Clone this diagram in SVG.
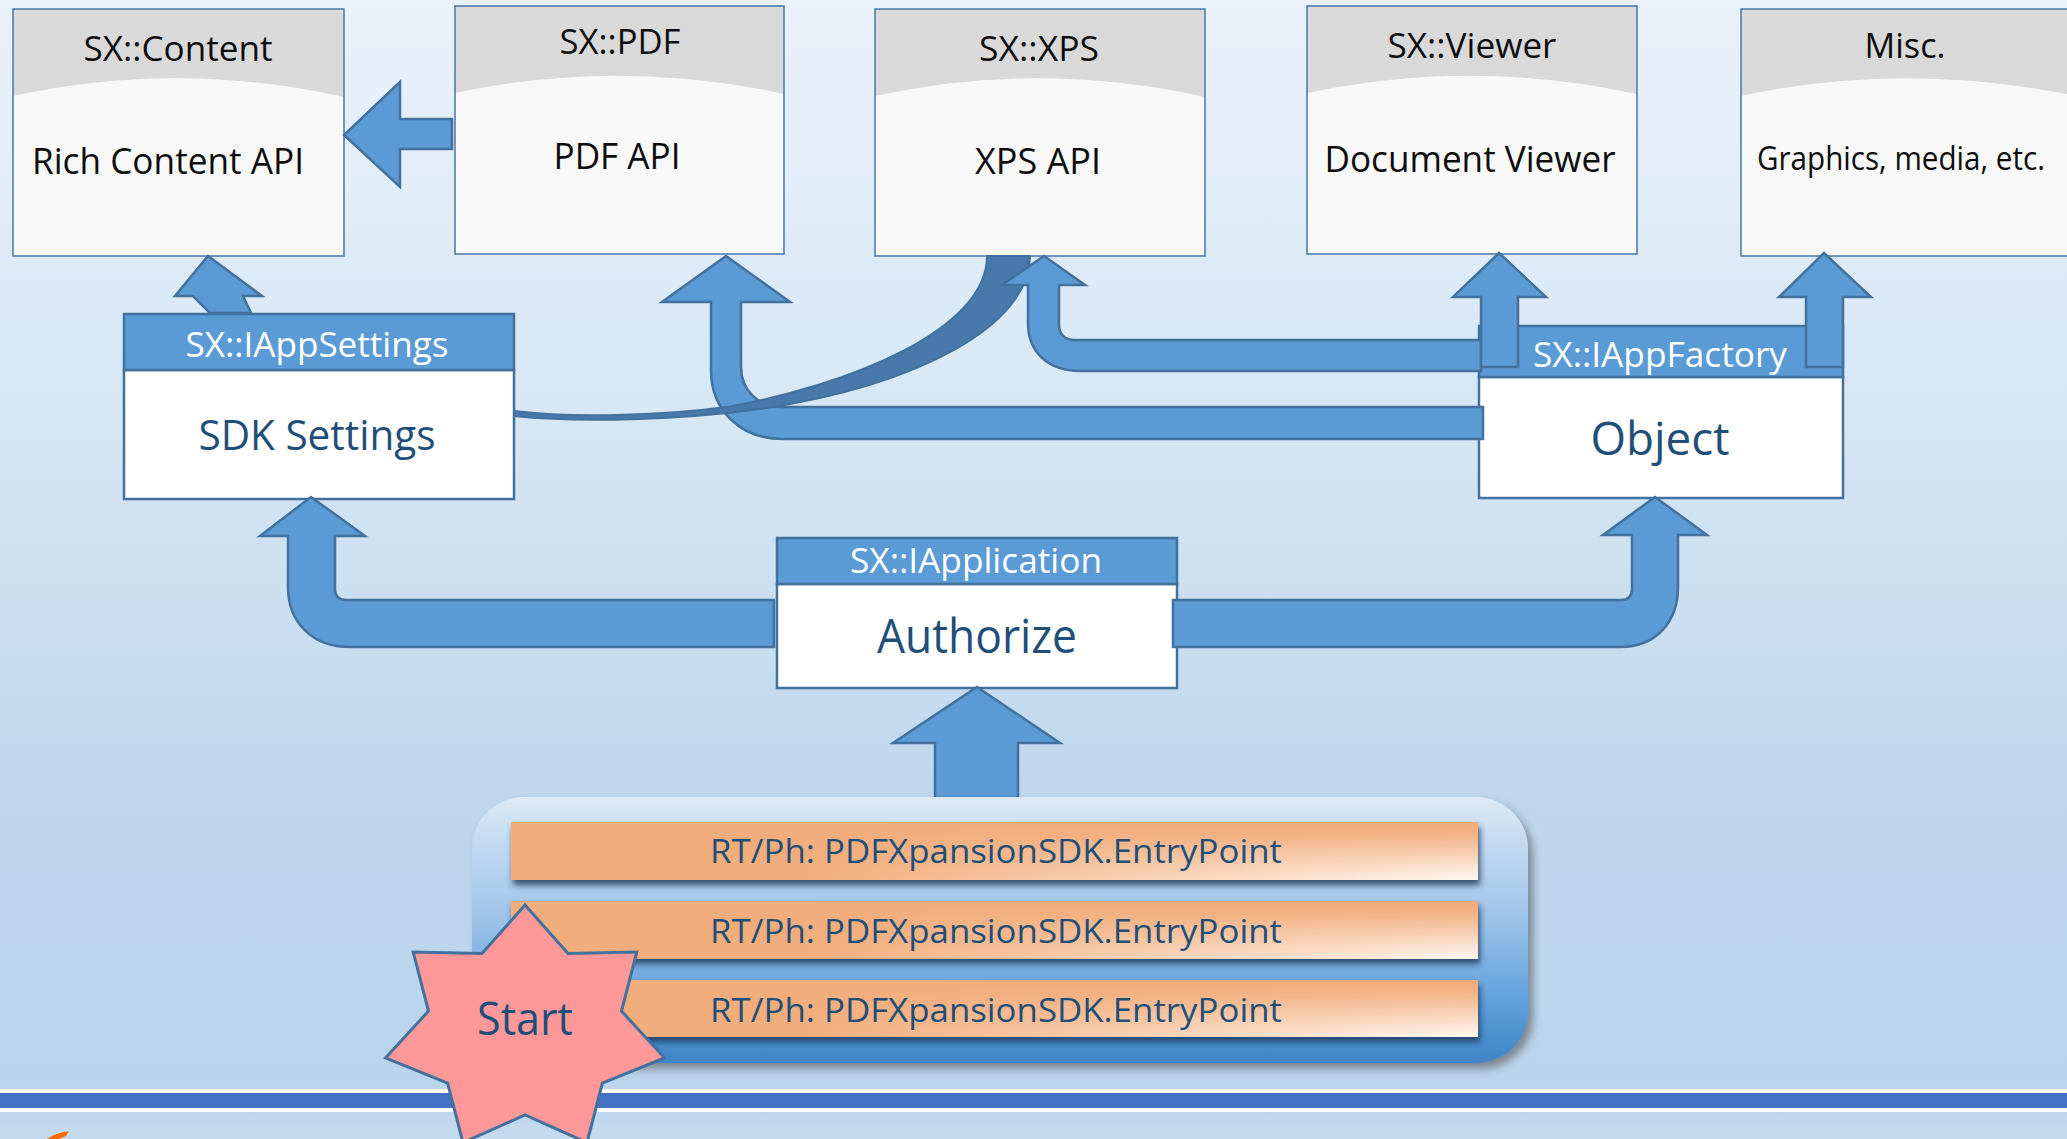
<svg xmlns="http://www.w3.org/2000/svg" width="2067" height="1139" viewBox="0 0 2067 1139">
<defs>
<linearGradient id="bg" x1="0" y1="0" x2="0" y2="1">
<stop offset="0" stop-color="#eaf2fb"/>
<stop offset="0.35" stop-color="#d7e7f5"/>
<stop offset="0.7" stop-color="#bed7ed"/>
<stop offset="0.95" stop-color="#bad4ec"/>
<stop offset="1" stop-color="#c4daef"/>
</linearGradient>
<linearGradient id="cont" x1="0" y1="0" x2="0" y2="1">
<stop offset="0" stop-color="#dde9f6"/>
<stop offset="0.15" stop-color="#c6dcf2"/>
<stop offset="0.45" stop-color="#9fc4e9"/>
<stop offset="0.75" stop-color="#62a2dd"/>
<stop offset="1" stop-color="#3e84c6"/>
</linearGradient>
<linearGradient id="barV" x1="0" y1="0" x2="0" y2="1">
<stop offset="0" stop-color="#f2aa78"/>
<stop offset="0.2" stop-color="#f3b285"/>
<stop offset="1" stop-color="#fff8f2"/>
</linearGradient>
<linearGradient id="barH" x1="0" y1="0" x2="1" y2="0">
<stop offset="0" stop-color="#f2ad7c" stop-opacity="1"/>
<stop offset="0.3" stop-color="#f2ad7c" stop-opacity="1"/>
<stop offset="1" stop-color="#f2ad7c" stop-opacity="0"/>
</linearGradient>
<filter id="contShadow" x="-5%" y="-10%" width="115%" height="130%">
<feDropShadow dx="5" dy="6" stdDeviation="4" flood-color="#4a4a4a" flood-opacity="0.55"/>
</filter>
<filter id="barShadow" x="-5%" y="-20%" width="110%" height="160%">
<feDropShadow dx="2" dy="5" stdDeviation="3" flood-color="#1b3a5c" flood-opacity="0.85"/>
</filter>
<style>
.conn{fill:#5b9bd5;stroke:#41719c;stroke-width:2.5;stroke-linejoin:miter}
.dark{fill:#477aab;stroke:#41719c;stroke-width:2}
.body{fill:#f8f8f8}
.head{fill:#d9d9d9}
.border{fill:none;stroke:#4a76a8;stroke-width:1.5}
.ihead{fill:#5b9bd5;stroke:#41719c;stroke-width:2.5}
.ibody{fill:#ffffff;stroke:#41719c;stroke-width:2.5}
text{font-family:"Open Sans","Noto Sans","DejaVu Sans",sans-serif;text-anchor:middle}
.tt{fill:#0d0d0d;font-size:34px}
.tb{fill:#0d0d0d;font-size:36px}
.th{fill:#ffffff;font-size:35px}
.tm{fill:#1f4e79}
.bar{fill:url(#barV)}
.barov{fill:url(#barH)}
</style>
</defs>

<rect x="0" y="0" width="2067" height="1139" fill="url(#bg)"/>
<rect x="0" y="1089" width="2067" height="4" fill="#ffffff"/>
<rect x="0" y="1093" width="2067" height="15" fill="#4472c4"/>
<rect x="0" y="1108" width="2067" height="4" fill="#ffffff"/>
<path d="M47,1139 Q55,1133 69,1131 L66,1136 Q61,1138 59,1139 Z" fill="#ff6a00"/>

<g id="node-content">
<rect class="body" x="13" y="9" width="331" height="247"/>
<path class="head" d="M13,9 H344 V97 Q178,60 13,96 Z"/>
<rect class="border" x="13" y="9" width="331" height="247"/>
<text class="tt" x="178" y="61" textLength="189" lengthAdjust="spacingAndGlyphs">SX::Content</text>
<text class="tb" x="168" y="174" textLength="272" lengthAdjust="spacingAndGlyphs">Rich Content API</text>
</g>

<g id="node-pdf">
<rect class="body" x="455" y="6" width="329" height="248"/>
<path class="head" d="M455,6 H784 V94 Q620,58 455,93 Z"/>
<rect class="border" x="455" y="6" width="329" height="248"/>
<text class="tt" x="620" y="54" textLength="121" lengthAdjust="spacingAndGlyphs">SX::PDF</text>
<text class="tb" x="617" y="169" textLength="127" lengthAdjust="spacingAndGlyphs">PDF API</text>
</g>

<g id="node-xps">
<rect class="body" x="875" y="9" width="330" height="247"/>
<path class="head" d="M875,9 H1205 V97 Q1040,60 875,96 Z"/>
<rect class="border" x="875" y="9" width="330" height="247"/>
<text class="tt" x="1039" y="61" textLength="120" lengthAdjust="spacingAndGlyphs">SX::XPS</text>
<text class="tb" x="1038" y="174" textLength="126" lengthAdjust="spacingAndGlyphs">XPS API</text>
</g>

<g id="node-viewer">
<rect class="body" x="1307" y="6" width="330" height="248"/>
<path class="head" d="M1307,6 H1637 V94 Q1472,58 1307,93 Z"/>
<rect class="border" x="1307" y="6" width="330" height="248"/>
<text class="tt" x="1472" y="58" textLength="169" lengthAdjust="spacingAndGlyphs">SX::Viewer</text>
<text class="tb" x="1470" y="172" textLength="291" lengthAdjust="spacingAndGlyphs">Document Viewer</text>
</g>

<g id="node-misc">
<rect class="body" x="1741" y="9" width="340" height="247"/>
<path class="head" d="M1741,9 H2081 V97 Q1906,60 1741,96 Z"/>
<rect class="border" x="1741" y="9" width="340" height="247"/>
<text class="tt" x="1905" y="58" textLength="81" lengthAdjust="spacingAndGlyphs">Misc.</text>
<text class="tb" x="1901" y="170" font-size="32" style="font-size:32px" textLength="288" lengthAdjust="spacingAndGlyphs">Graphics, media, etc.</text>
</g>

<g id="node-appsettings">
<rect class="ibody" x="124" y="370" width="390" height="129"/>
<rect class="ihead" x="124" y="314" width="390" height="56"/>
<text class="th" x="317" y="357" textLength="263" lengthAdjust="spacingAndGlyphs">SX::IAppSettings</text>
<text class="tm" x="317" y="450" font-size="42" textLength="237" lengthAdjust="spacingAndGlyphs">SDK Settings</text>
</g>

<g id="node-application">
<rect class="ibody" x="777" y="584" width="400" height="104"/>
<rect class="ihead" x="777" y="538" width="400" height="46"/>
<text class="th" x="976" y="573" textLength="252" lengthAdjust="spacingAndGlyphs">SX::IApplication</text>
<text class="tm" x="977" y="653" font-size="47" textLength="200" lengthAdjust="spacingAndGlyphs">Authorize</text>
</g>

<g id="node-appfactory">
<rect class="ibody" x="1479" y="377" width="364" height="121"/>
<rect class="ihead" x="1479" y="326" width="364" height="51"/>
<text class="th" x="1660" y="367" textLength="254" lengthAdjust="spacingAndGlyphs">SX::IAppFactory</text>
<text class="tm" x="1660" y="455" font-size="45" textLength="139" lengthAdjust="spacingAndGlyphs">Object</text>
</g>

<g id="connectors">
<path class="conn" d="M452,119 L400,119 L400,82 L344,135 L400,187 L400,149 L452,149 Z"/>
<path class="conn" d="M210,313 L193,296 L175,296 L208,256 L262,296 L243,296 L251,313 Z"/>
<path class="conn" d="M774,600 L346,600 Q335,600 335,589 L335,536 L365,536 L311,497 L260,536 L288,536 L288,587 C288,622 312,647 350,647 L774,647 Z"/>
<path class="conn" d="M1173,600 L1621,600 Q1632,600 1632,589 L1632,535 L1603,535 L1655,497 L1707,535 L1678,535 L1678,587 C1678,622 1656,647 1620,647 L1173,647 Z"/>
<path class="conn" d="M1483,407 L782,407 C758,407 741,390 741,367 L741,302 L790,302 L726,256 L662,302 L711,302 L711,370 C711,410 740,439 783,439 L1483,439 Z"/>
<path class="dark" d="M514,411 C570,418 660,416 727,407 C850,385 987,330 987,256 L1030,256 C1030,325 920,385 760,409 C680,420 580,423 514,416 Z"/>
<path class="conn" d="M1481,340 L1074,340 C1065,340 1059,334 1059,325 L1059,285 L1085,285 L1044,256 L1002,285 L1028,285 L1028,323 C1028,352 1048,371 1080,371 L1481,371 Z"/>
<path class="conn" d="M1481,367 L1481,297 L1453,297 L1499,253 L1546,297 L1518,297 L1518,367 Z"/>
<path class="conn" d="M1806,367 L1806,297 L1779,297 L1824,253 L1871,297 L1843,297 L1843,367 Z"/>
<path class="conn" d="M935,798 L935,743 L893,743 L977,687 L1060,743 L1018,743 L1018,798 Z"/>
</g>

<g id="node-entrypoints">
<rect x="472" y="797" width="1056" height="266" rx="52" ry="52" fill="url(#cont)" filter="url(#contShadow)"/>
<g filter="url(#barShadow)">
<rect class="bar" x="511" y="822" width="967" height="58"/>
<rect class="bar" x="511" y="901" width="967" height="58"/>
<rect class="bar" x="511" y="980" width="967" height="57"/>
</g>
<rect class="barov" x="511" y="822" width="967" height="58"/>
<rect class="barov" x="511" y="901" width="967" height="58"/>
<rect class="barov" x="511" y="980" width="967" height="57"/>
<text class="tm" x="996" y="863" font-size="33" textLength="572" lengthAdjust="spacingAndGlyphs">RT/Ph: PDFXpansionSDK.EntryPoint</text>
<text class="tm" x="996" y="943" font-size="33" textLength="572" lengthAdjust="spacingAndGlyphs">RT/Ph: PDFXpansionSDK.EntryPoint</text>
<text class="tm" x="996" y="1022" font-size="33" textLength="572" lengthAdjust="spacingAndGlyphs">RT/Ph: PDFXpansionSDK.EntryPoint</text>
</g>

<g id="node-start">
<polygon points="525,905 568,953.4 636.8,952.1 621.5,1011.1 664.4,1057.8 602.4,1083 587,1142.6 525,1115 463,1142.6 447.6,1083 385.6,1057.8 428.5,1011.1 413.2,952.1 482,953.4" fill="#ff9999" stroke="#41719c" stroke-width="3" stroke-linejoin="miter"/>
<text class="tm" x="525" y="1035" font-size="46" textLength="96" lengthAdjust="spacingAndGlyphs">Start</text>
</g>
</svg>
